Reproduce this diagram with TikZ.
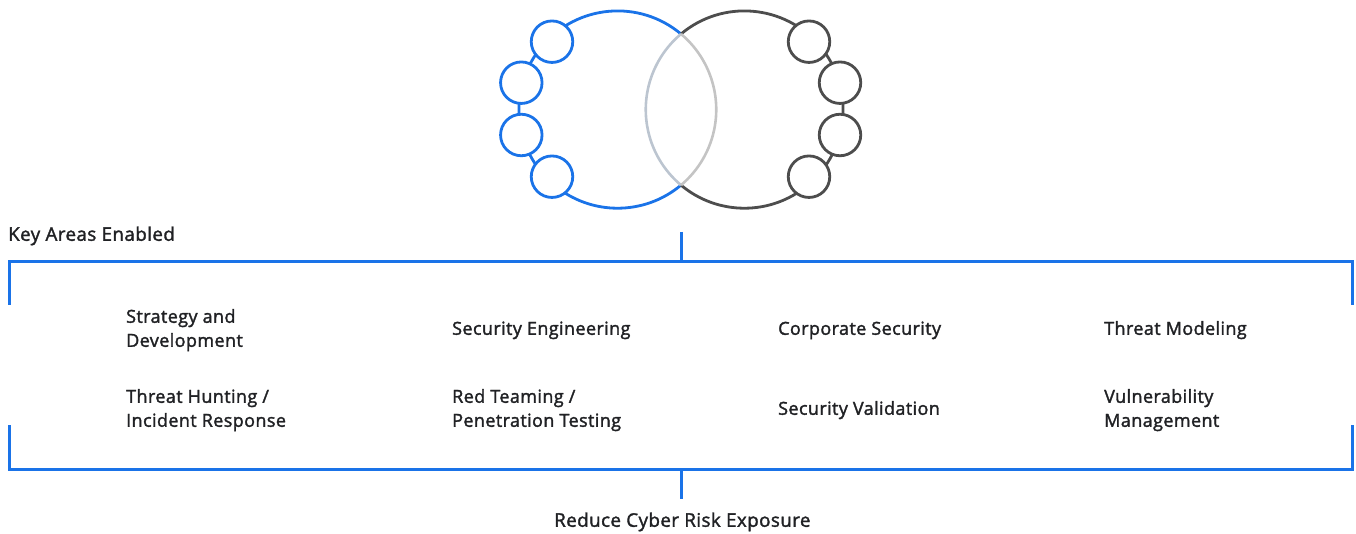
\documentclass[tikz,border=0pt]{standalone}
\usepackage{fontspec}
\setmainfont{Open Sans}[LetterSpace=2.2]
\definecolor{gblue}{HTML}{1A73E8}
\definecolor{gdark}{HTML}{4D4D4D}
\definecolor{lensgrey}{HTML}{C4C4C4}
\definecolor{lensblue}{HTML}{BCC5D0}
\definecolor{inktext}{HTML}{202124}
\newcommand{\lineitem}[1]{\strut\special{pdf:code 2 Tr 0.32 w 0.125 0.129 0.141 RG}#1\special{pdf:code 0 Tr}}
\tikzset{
  x=1pt,y=1pt,
  bigarc/.style={line width=2.8pt},
  lensarc/.style={line width=2.6pt},
  smallcirc/.style={circle,draw,fill=white,line width=2.8pt,inner sep=0pt,minimum size=41.5pt},
  bracket/.style={draw=gblue,line width=3pt},
  label/.style={anchor=west,inner sep=0pt,align=left,text=inktext,font=\fontsize{18}{24}\selectfont},
  outerlabel/.style={label,font=\fontsize{18.8}{24}\selectfont},
}
\begin{document}
\begin{tikzpicture}
\useasboundingbox (0,0) rectangle (1356,533);
\coordinate (lensT) at (681,499);
\draw[bigarc,gblue] (lensT) arc[start angle=50,end angle=310,radius=98.65pt];
\draw[bigarc,gdark] (lensT) arc[start angle=130,end angle=-130,radius=98.65pt];
\node[smallcirc,draw=gblue] (l1) at (552,491.3) {};
\node[smallcirc,draw=gblue] (l2) at (521.3,450.3) {};
\node[smallcirc,draw=gblue] (l3) at (521.3,398) {};
\node[smallcirc,draw=gblue] (l4) at (552,356.3) {};
\node[smallcirc,draw=gdark] (r1) at (809,491.3) {};
\node[smallcirc,draw=gdark] (r2) at (840,450.3) {};
\node[smallcirc,draw=gdark] (r3) at (840,398) {};
\node[smallcirc,draw=gdark] (r4) at (809,356.3) {};
\draw[lensarc,lensblue] (lensT) arc[start angle=130,end angle=230,radius=98.65pt];
\draw[lensarc,lensgrey] (lensT) arc[start angle=50,end angle=-50,radius=98.65pt];
% brackets
\coordinate (tA) at (9,228);
\coordinate (tB) at (9,271);
\coordinate (tC) at (1352,271);
\coordinate (tD) at (1352,228);
\coordinate (tS) at (681,271);
\coordinate (tE) at (681,301);
\coordinate (bA) at (9,108);
\coordinate (bB) at (9,64);
\coordinate (bC) at (1352,64);
\coordinate (bD) at (1352,108);
\coordinate (bS) at (681,64);
\coordinate (bE) at (681,34);
\draw[bracket] (tA) -- (tB) -- (tC) -- (tD);
\draw[bracket] (tE) -- (tS);
\draw[bracket] (bA) -- (bB) -- (bC) -- (bD);
\draw[bracket] (bS) -- (bE);
% labels
\node[outerlabel] (key) at (8,297) {\lineitem{Key Areas Enabled}};
\node[label] (a1) at (126,203) {\lineitem{Strategy and}\\\lineitem{Development}};
\node[label] (a2) at (452,203) {\lineitem{Security Engineering}};
\node[label] (a3) at (778,203) {\lineitem{Corporate Security}};
\node[label] (a4) at (1104,203) {\lineitem{Threat Modeling}};
\node[label] (b1) at (126,123) {\lineitem{Threat Hunting /}\\\lineitem{Incident Response}};
\node[label] (b2) at (452,123) {\lineitem{Red Teaming /}\\\lineitem{Penetration Testing}};
\node[label] (b3) at (778,123) {\lineitem{Security Validation}};
\node[label] (b4) at (1104,123) {\lineitem{Vulnerability}\\\lineitem{Management}};
\node[outerlabel] (red) at (554,11) {\lineitem{Reduce Cyber Risk Exposure}};
\end{tikzpicture}
\end{document}
